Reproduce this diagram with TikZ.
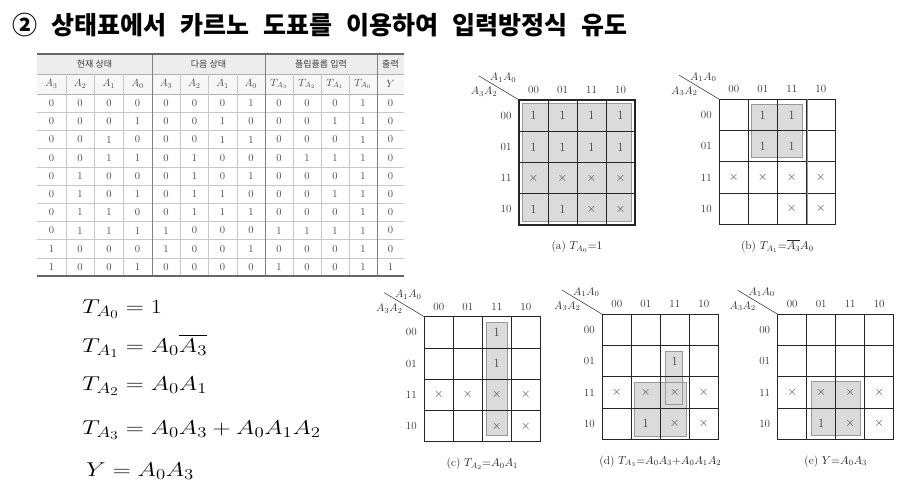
\documentclass[tikz,border=0pt]{standalone}
\usepackage{fix-cm}
\usepackage{amsmath}
\usepackage{graphicx}
\usepackage{fontspec}
\newfontfamily\krfont{Noto Sans CJK KR}
\DeclareMathSizes{20}{20}{15}{12}
\newcommand\KX{$\times$}
\newcommand\KE{}
\newcommand\eqline[1]{\scalebox{1.25}[1]{$#1$}}
\tikzset{
  cellv/.style={font=\fontsize{12.5}{13}\selectfont, text=black!75, inner sep=0pt},
  klab/.style={font=\fontsize{11}{12}\selectfont, text=black!80, inner sep=0pt},
  kcap/.style={font=\fontsize{11.5}{12}\selectfont, text=black!85, inner sep=0pt},
  shadebox/.style={fill=black!14, draw=black!40, line width=0.8pt},
  kgrid/.style={draw=black!85, line width=0.7pt},
  kouter/.style={draw=black!85, line width=1.1pt},
  tval/.style={font=\fontsize{10.5}{11}\selectfont, text=black!70, inner sep=0pt},
  thdr/.style={font=\krfont\fontsize{9}{10}\selectfont, text=black!75, inner sep=0pt},
  eqn/.style={font=\fontsize{20}{24}\selectfont, anchor=base west, inner sep=0pt},
}
\newcommand\kmap[6]{%
\begin{scope}[shift={(#2,#3)}, name prefix=#1-]
  #5
  \foreach \i in {1,2,3} {
    \draw[kgrid] (29*\i,0) -- (29*\i,125);
    \draw[kgrid] (0,31.25*\i) -- (116,31.25*\i);
  }
  \draw[kouter] (0,0) rectangle (116,125);
  \foreach \l [count=\i from 0] in {00,01,11,10} {
    \node[klab] (c\i) at (14.5+29*\i,-10) {\l};
    \node[klab] (r\i) at (-13,15.6+31.25*\i) {\l};
  }
  \coordinate (corner) at (0,0);
  \coordinate (dstart) at (-40,-24);
  \draw[black!75, line width=0.6pt] (dstart) -- (corner);
  \node[klab] (top) at (-16,-22) {$A_1A_0$};
  \node[klab] (side) at (-35,-8) {$A_3A_2$};
  \foreach \row [count=\ri from 0] in {#4} {
    \foreach \v [count=\ci from 0] in \row {
      \node[cellv] (v\ri\ci) at (14.5+29*\ci,15.6+31.25*\ri) {\v};
    }
  }
  \node[kcap] (cap) at (58,147) {#6};
\end{scope}}
\begin{document}
\begin{tikzpicture}[x=1pt,y=-1pt]
\useasboundingbox (0,0) rectangle (907,493);
\fill[white] (0,0) rectangle (907,493);

% title
\node[anchor=west, inner sep=0pt, font=\krfont\bfseries\fontsize{25}{28}\selectfont] (title) at (12,25)
  {②\hspace{14pt}상태표에서\hspace{14pt}카르노\hspace{14pt}도표를\hspace{14pt}이용하여\hspace{14pt}입력방정식\hspace{14pt}유도};

% ---------------- state table ----------------
\fill[black!7] (37,54) rectangle (404,74);
\fill[black!3] (37,74) rectangle (404,94);
\foreach \yy in {74,94} \draw[black!30, line width=0.6pt] (37,\yy) -- (404,\yy);
\foreach \k in {1,...,9} \draw[black!22, line width=0.5pt] (37,94+18.2*\k) -- (404,94+18.2*\k);
\foreach \xx in {65.75,94.5,123.25,180.25,208.5,236.75,293,321,349}
  \draw[black!22, line width=0.5pt] (\xx,74) -- (\xx,276);
\foreach \xx in {152,265,377}
  \draw[black!50, line width=1pt] (\xx,54) -- (\xx,276);
\draw[black!60, line width=1.1pt] (37,54) -- (404,54);
\draw[black!60, line width=1.1pt] (37,276) -- (404,276);

\node[thdr] (h1) at (94.5,64) {현재 상태};
\node[thdr] (h2) at (208.5,64) {다음 상태};
\node[thdr] (h3) at (321,64) {플립플롭 입력};
\node[thdr] (h4) at (390.5,64) {출력};

\foreach \lab [count=\c] in {$A_3$,$A_2$,$A_1$,$A_0$,$A_3$,$A_2$,$A_1$,$A_0$,$T_{A_3}$,$T_{A_2}$,$T_{A_1}$,$T_{A_0}$,$Y$} {
  \pgfmathsetmacro\xc{{51.4,80.1,108.9,137.6,166.1,194.4,222.6,250.9,279,307,335,363,390.5}[\c-1]}
  \node[tval] (s\c) at (\xc,84) {\lab};
}
\foreach \row [count=\r] in {
  {0,0,0,0,0,0,0,1,0,0,0,1,0},
  {0,0,0,1,0,0,1,0,0,0,1,1,0},
  {0,0,1,0,0,0,1,1,0,0,0,1,0},
  {0,0,1,1,0,1,0,0,0,1,1,1,0},
  {0,1,0,0,0,1,0,1,0,0,0,1,0},
  {0,1,0,1,0,1,1,0,0,0,1,1,0},
  {0,1,1,0,0,1,1,1,0,0,0,1,0},
  {0,1,1,1,1,0,0,0,1,1,1,1,0},
  {1,0,0,0,1,0,0,1,0,0,0,1,0},
  {1,0,0,1,0,0,0,0,1,0,0,1,1}} {
  \foreach \v [count=\c] in \row {
    \pgfmathsetmacro\xc{{51.4,80.1,108.9,137.6,166.1,194.4,222.6,250.9,279,307,335,363,390.5}[\c-1]}
    \node[tval] (t-\r-\c) at (\xc,94+18.2*\r-9.1) {\v};
  }
}

% ---------------- equations ----------------
\node[eqn] (e0) at (82,313) {\eqline{T_{A_0} = 1}};
\node[eqn] (e1) at (82,352) {\eqline{T_{A_1} = A_0\overline{A_3}}};
\node[eqn] (e2) at (82,390) {\eqline{T_{A_2} = A_0A_1}};
\node[eqn] (e3) at (82,434) {\eqline{T_{A_3} = A_0A_3 + A_0A_1A_2}};
\node[eqn] (e4) at (86,476) {\eqline{Y = A_0A_3}};

% ---------------- K-maps ----------------
\kmap{a}{519}{100}{{1,1,1,1},{1,1,1,1},{\KX,\KX,\KX,\KX},{1,1,\KX,\KX}}
  {\draw[shadebox] (3.5,3.5) rectangle (112.5,121.5);}
  {(a) $T_{A_0}{=}1$}
\kmap{b}{719.3}{99.3}{{\KE,1,1,\KE},{\KE,1,1,\KE},{\KX,\KX,\KX,\KX},{\KE,\KE,\KX,\KX}}
  {\draw[shadebox] (32,5) rectangle (83,58.5);}
  {(b) $T_{A_1}{=}\overline{A_3}A_0$}
\draw[black!40, line width=1.3pt] (807.3,99.3) -- (807.3,224.3);
\kmap{c}{424.3}{316.7}{{\KE,\KE,1,\KE},{\KE,\KE,1,\KE},{\KX,\KX,\KX,\KX},{\KE,\KE,\KX,\KX}}
  {\draw[shadebox] (62,5.5) rectangle (83,118.5);}
  {(c) $T_{A_2}{=}A_0A_1$}
\kmap{d}{602.3}{314.3}{{\KE,\KE,\KE,\KE},{\KE,\KE,1,\KE},{\KX,\KX,\KX,\KX},{\KE,1,\KX,\KX}}
  {\fill[black!14] (32,68) rectangle (83.7,122.4);
   \fill[black!14] (63,36.7) rectangle (80.4,89.7);
   \draw[draw=black!40, line width=0.8pt] (32,68) rectangle (83.7,122.4);
   \draw[draw=black!40, line width=0.8pt] (63,36.7) rectangle (80.4,89.7);}
  {(d) $T_{A_3}{=}A_0A_3{+}A_0A_1A_2$}
\kmap{e}{777.7}{314.3}{{\KE,\KE,\KE,\KE},{\KE,\KE,\KE,\KE},{\KX,\KX,\KX,\KX},{\KE,1,\KX,\KX}}
  {\draw[shadebox] (33.3,67.4) rectangle (83,120.7);}
  {(e) $Y{=}A_0A_3$}
\end{tikzpicture}
\end{document}
